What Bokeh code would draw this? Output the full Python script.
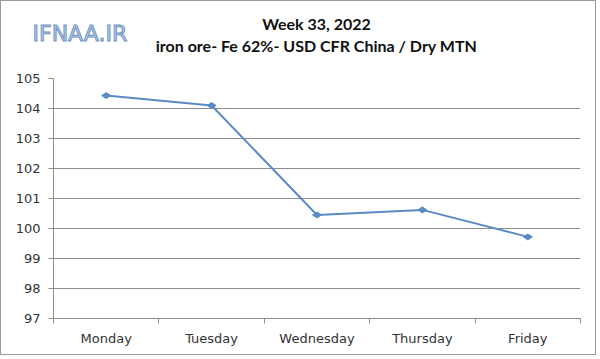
import math
from bokeh.plotting import figure
from bokeh.models import FixedTicker, Label, Range1d
from bokeh.embed import file_html
from bokeh.resources import INLINE

days = ["Monday", "Tuesday", "Wednesday", "Thursday", "Friday"]
prices = [104.43, 104.10, 100.45, 100.62, 99.72]
y_ticks = [97, 98, 99, 100, 101, 102, 103, 104, 105]
title_1 = "Week 33, 2022"
title_2 = "iron ore- Fe 62%- USD CFR China / Dry MTN"
brand = "IFNAA.IR"

xs = [i + 0.5 for i in range(len(days))]
bounds = list(range(len(days) + 1))

W, H = 596, 355
FL, FT, FR, FB = 52, 77, 17, 38
p = figure(width=W, height=H, x_range=Range1d(0, len(days)), y_range=Range1d(y_ticks[0], y_ticks[-1]),
           output_backend="svg", toolbar_location=None,
           min_border_left=FL, min_border_right=FR, min_border_top=FT, min_border_bottom=FB)
p.outline_line_color = None
p.background_fill_color = "white"
p.border_fill_color = "white"
p.styles = {"border": "1px solid #9a9a9a"}

grid_col = "#8c8c8c"
p.xgrid.visible = False
p.ygrid.ticker = FixedTicker(ticks=y_ticks)
p.ygrid.grid_line_color = grid_col

for ax in (p.xaxis[0], p.yaxis[0]):
    ax.axis_line_color = grid_col
    ax.major_label_text_font = "DejaVu Sans"
    ax.major_label_text_font_size = "13px"
    ax.major_label_text_color = "#333333"

p.xaxis.ticker = FixedTicker(ticks=xs, minor_ticks=bounds)
p.xaxis.major_label_overrides = {x: d for x, d in zip(xs, days)}
p.xaxis.major_tick_line_color = None
p.xaxis.major_tick_out = 0
p.xaxis.major_tick_in = 0
p.xaxis.minor_tick_line_color = grid_col
p.xaxis.minor_tick_out = 5
p.xaxis.minor_tick_in = 0
p.xaxis.major_label_standoff = 7

p.yaxis.ticker = FixedTicker(ticks=y_ticks)
p.yaxis.major_tick_line_color = grid_col
p.yaxis.major_tick_out = 5
p.yaxis.major_tick_in = 0
p.yaxis.minor_tick_line_color = None
p.yaxis.major_label_standoff = 8

line_col = "#5a8bc6"
p.line(xs, prices, line_color=line_col, line_width=2)
p.scatter(xs, prices, marker="diamond", size=9, angle=math.pi / 2,
          fill_color=line_col, line_color=line_col)

# texts above the frame, placed in canvas pixels (side panel => not clipped)
p.add_layout(Label(x=314, y=21, x_units="canvas", y_units="canvas", text=title_1,
                   text_font="Lato", text_font_style="bold", text_font_size="16px",
                   text_align="center", text_baseline="middle", text_color="#111111"), "above")
p.add_layout(Label(x=314, y=43, x_units="canvas", y_units="canvas", text=title_2,
                   text_font="Lato", text_font_style="bold", text_font_size="16px",
                   text_align="center", text_baseline="middle", text_color="#111111"), "above")
p.add_layout(Label(x=30, y=31, x_units="canvas", y_units="canvas", text=brand,
                   text_font="DejaVu Sans", text_font_size="22px",
                   text_align="left", text_baseline="middle", text_color="#b7cff0",
                   text_outline_color="#7393c2"), "above")

open("out.html", "w").write(file_html(p, INLINE))
